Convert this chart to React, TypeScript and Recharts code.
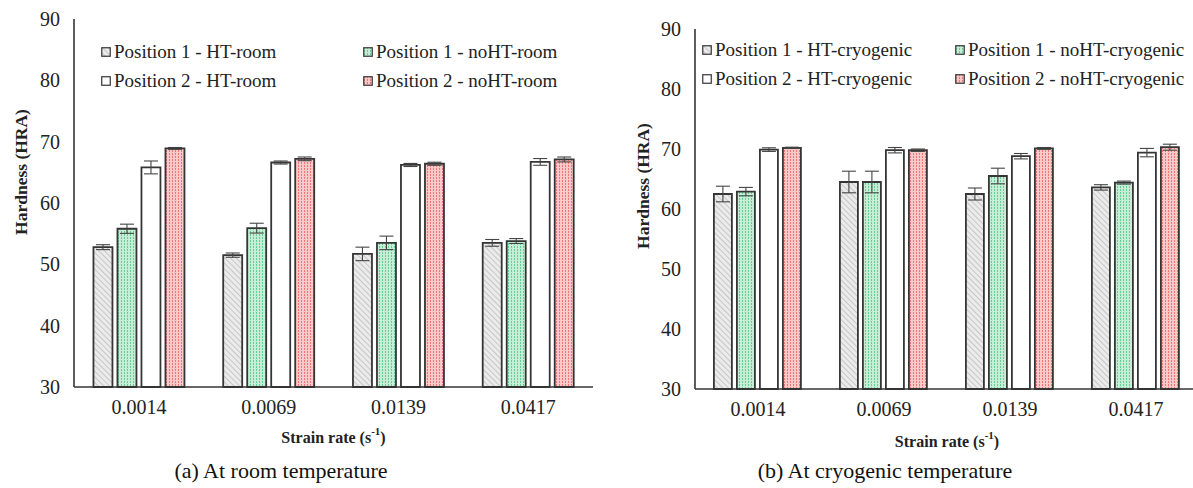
import React from "react";
import { BarChart, Bar, XAxis, YAxis, ErrorBar, Legend, Label } from "recharts";

const strainRates = ["0.0014", "0.0069", "0.0139", "0.0417"];

// (a) room temperature
const roomP1HT = [52.8, 51.5, 51.7, 53.5];
const roomP1HTErr = [0.4, 0.35, 1.1, 0.55];
const roomP1NoHT = [55.8, 55.9, 53.5, 53.8];
const roomP1NoHTErr = [0.75, 0.8, 1.1, 0.4];
const roomP2HT = [65.8, 66.6, 66.2, 66.7];
const roomP2HTErr = [1.05, 0.25, 0.25, 0.55];
const roomP2NoHT = [68.9, 67.2, 66.4, 67.1];
const roomP2NoHTErr = [0.15, 0.3, 0.25, 0.4];

// (b) cryogenic temperature
const cryoP1HT = [62.5, 64.5, 62.5, 63.6];
const cryoP1HTErr = [1.3, 1.8, 1.0, 0.45];
const cryoP1NoHT = [62.9, 64.5, 65.5, 64.4];
const cryoP1NoHTErr = [0.7, 1.8, 1.3, 0.25];
const cryoP2HT = [69.9, 69.8, 68.8, 69.4];
const cryoP2HTErr = [0.3, 0.45, 0.45, 0.7];
const cryoP2NoHT = [70.2, 69.8, 70.1, 70.3];
const cryoP2NoHTErr = [0.1, 0.2, 0.15, 0.5];

const yTicks = [30, 40, 50, 60, 70, 80, 90];

const roomLabels = [
  "Position 1 - HT-room",
  "Position 1 - noHT-room",
  "Position 2 - HT-room",
  "Position 2 - noHT-room",
];
const cryoLabels = [
  "Position 1 - HT-cryogenic",
  "Position 1 - noHT-cryogenic",
  "Position 2 - HT-cryogenic",
  "Position 2 - noHT-cryogenic",
];

const FONT = "Liberation Serif, Times New Roman, DejaVu Serif, serif";
const EDGE = "#353535";

type Row = {
  rate: string;
  p1ht: number; p1htErr: number;
  p1noht: number; p1nohtErr: number;
  p2ht: number; p2htErr: number;
  p2noht: number; p2nohtErr: number;
};

function buildRows(
  a: number[], ae: number[], b: number[], be: number[],
  c: number[], ce: number[], d: number[], de: number[]
): Row[] {
  return strainRates.map((rate, i) => ({
    rate,
    p1ht: a[i], p1htErr: ae[i],
    p1noht: b[i], p1nohtErr: be[i],
    p2ht: c[i], p2htErr: ce[i],
    p2noht: d[i], p2nohtErr: de[i],
  }));
}

const roomData = buildRows(roomP1HT, roomP1HTErr, roomP1NoHT, roomP1NoHTErr, roomP2HT, roomP2HTErr, roomP2NoHT, roomP2NoHTErr);
const cryoData = buildRows(cryoP1HT, cryoP1HTErr, cryoP1NoHT, cryoP1NoHTErr, cryoP2HT, cryoP2HTErr, cryoP2NoHT, cryoP2NoHTErr);

type PanelProps = {
  id: string;
  data: Row[];
  labels: string[];
  left: number;
  yAxisWidth: number;
  marginTop: number;
  marginRight: number;
  xAxisHeight: number;
  yTitleX: number;
  yTitleDy: number;
  xTitleDy: number;
  legendLeft: number;
  legendTop: number;
  legendCol2: number;
};

function Swatch({ fill }: { fill: string }) {
  return (
    <svg width={10} height={10} style={{ display: "block" }}>
      <rect x={0.75} y={0.75} width={8.5} height={8.5} fill={fill} stroke={EDGE} strokeWidth={1.2} />
    </svg>
  );
}

function Panel(p: PanelProps) {
  const fills = [
    `url(#${p.id}-hatch)`,
    `url(#${p.id}-green)`,
    "#ffffff",
    `url(#${p.id}-red)`,
  ];
  const keys = ["p1ht", "p1noht", "p2ht", "p2noht"];

  const legendContent = () => (
    <div style={{ position: "relative", width: 500, height: 60, fontFamily: FONT, fontSize: 19, color: "#222" }}>
      {p.labels.map((label, i) => (
        <div
          key={label}
          style={{
            position: "absolute",
            left: i % 2 === 0 ? 0 : p.legendCol2,
            top: i < 2 ? 0 : 29,
            display: "flex",
            alignItems: "center",
            gap: 3,
            whiteSpace: "nowrap",
            lineHeight: "20px",
          }}
        >
          <Swatch fill={fills[i]} />
          <span>{label}</span>
        </div>
      ))}
    </div>
  );

  return (
    <div style={{ position: "absolute", left: p.left, top: 0 }}>
      <BarChart
        width={610}
        height={450}
        data={p.data}
        margin={{ top: p.marginTop, right: p.marginRight, bottom: 0, left: 0 }}
        barCategoryGap="15%"
        barGap={5}
      >
        <defs>
          <pattern id={`${p.id}-hatch`} width="4" height="4" patternUnits="userSpaceOnUse" patternTransform="rotate(-45)">
            <rect width="4" height="4" fill="#ebebeb" />
            <line x1="0" y1="0" x2="0" y2="4" stroke="#b3b3b3" strokeWidth="1.3" />
          </pattern>
          <pattern id={`${p.id}-green`} width="3" height="3" patternUnits="userSpaceOnUse">
            <rect width="3" height="3" fill="#c6eed7" />
            <rect x="1" y="0" width="1" height="2" fill="#67cc94" />
          </pattern>
          <pattern id={`${p.id}-red`} width="3" height="3" patternUnits="userSpaceOnUse">
            <rect width="3" height="3" fill="#f9c9c9" />
            <rect x="1" y="0" width="1" height="2" fill="#ea7676" />
          </pattern>
        </defs>

        <XAxis
          dataKey="rate"
          height={p.xAxisHeight}
          tickLine={false}
          tickSize={0}
          tickMargin={13}
          axisLine={{ stroke: EDGE, strokeWidth: 1.6 }}
          tick={{ fill: "#222", fontSize: 20, fontFamily: FONT }}
        >
          <Label
            content={(props: any) => {
              const vb = props.viewBox;
              const cx = vb.x + vb.width / 2;
              const cy = vb.y + p.xTitleDy;
              return (
                <text x={cx} y={cy} textAnchor="middle" dominantBaseline="central" fontFamily={FONT} fontWeight="bold" fontSize={16} fill="#222">
                  Strain rate (s
                  <tspan dy={-6} fontSize={11}>-1</tspan>
                  <tspan dy={6}>)</tspan>
                </text>
              );
            }}
          />
        </XAxis>
        <XAxis xAxisId="top" dataKey="rate" orientation="top" height={0} tick={false} tickLine={false} axisLine={{ stroke: EDGE, strokeWidth: 1.6 }} />

        <YAxis
          domain={[30, 90]}
          ticks={yTicks}
          width={p.yAxisWidth}
          tickLine={false}
          tickSize={0}
          tickMargin={14}
          axisLine={{ stroke: EDGE, strokeWidth: 1.6 }}
          tick={{ fill: "#222", fontSize: 20, fontFamily: FONT }}
        >
          <Label
            content={(props: any) => {
              const vb = props.viewBox;
              const cx = p.yTitleX;
              const cy = vb.y + vb.height / 2 + p.yTitleDy;
              return (
                <text x={cx} y={cy} transform={`rotate(-90 ${cx} ${cy})`} textAnchor="middle" dominantBaseline="central" fontFamily={FONT} fontWeight="bold" fontSize={17.5} fill="#222">
                  Hardness (HRA)
                </text>
              );
            }}
          />
        </YAxis>
        <YAxis yAxisId="right" orientation="right" domain={[30, 90]} width={0} tick={false} tickLine={false} axisLine={{ stroke: EDGE, strokeWidth: 1.6 }} />

        <Legend
          layout="vertical"
          align="center"
          verticalAlign="middle"
          wrapperStyle={{ left: p.legendLeft, top: p.legendTop, width: 500 }}
          content={legendContent}
        />

        {keys.map((k, i) => (
          <Bar
            key={k}
            dataKey={k}
            name={p.labels[i]}
            fill={fills[i]}
            stroke={EDGE}
            strokeWidth={1.8}
            isAnimationActive={false}
          >
            <ErrorBar dataKey={`${k}Err`} width={7} stroke="#444" strokeWidth={1.1} />
          </Bar>
        ))}
      </BarChart>
    </div>
  );
}

export default function App() {
  return (
    <div style={{ position: "absolute", left: 0, top: 0, width: 1193, height: 488, overflow: "hidden", background: "#fff" }}>
      <Panel
        id="room"
        data={roomData}
        labels={roomLabels}
        left={0}
        yAxisWidth={74}
        marginTop={19}
        marginRight={17}
        xAxisHeight={63}
        yTitleX={21}
        yTitleDy={-31}
        xTitleDy={50}
        legendLeft={101}
        legendTop={42}
        legendCol2={262}
      />
      <Panel
        id="cryo"
        data={cryoData}
        labels={cryoLabels}
        left={600}
        yAxisWidth={95}
        marginTop={29}
        marginRight={11}
        xAxisHeight={61}
        yTitleX={43}
        yTitleDy={-23}
        xTitleDy={52}
        legendLeft={102}
        legendTop={40}
        legendCol2={253}
      />
      <div style={{ position: "absolute", left: 81, width: 400, top: 458, textAlign: "center", fontFamily: FONT, fontSize: 22, color: "#111" }}>
        (a) At room temperature
      </div>
      <div style={{ position: "absolute", left: 685, width: 400, top: 458, textAlign: "center", fontFamily: FONT, fontSize: 22, color: "#111" }}>
        (b) At cryogenic temperature
      </div>
    </div>
  );
}
